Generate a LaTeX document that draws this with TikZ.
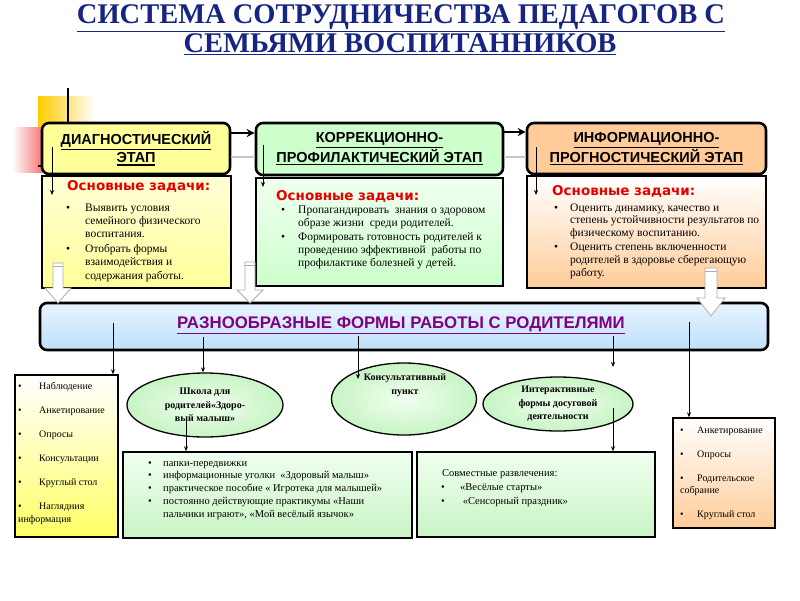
\documentclass[tikz,border=0pt]{standalone}
\usepackage{fontspec}
\setmainfont{Liberation Serif}
\newfontfamily\hsans{Liberation Sans}
\newfontfamily\blk{DejaVu Sans}
\usetikzlibrary{arrows.meta,shapes.geometric}
\definecolor{titleblue}{RGB}{22,36,130}
\definecolor{hyellow}{RGB}{255,255,153}
\definecolor{hgreen}{RGB}{204,255,204}
\definecolor{horange}{RGB}{255,204,153}
\definecolor{barblue}{RGB}{190,224,250}
\definecolor{barlight}{RGB}{232,244,255}
\definecolor{purp}{RGB}{128,0,128}
\definecolor{taskred}{RGB}{230,0,0}
\definecolor{palegreen}{RGB}{200,244,196}
\definecolor{lightgreen}{RGB}{240,255,240}
\definecolor{paleyellow}{RGB}{255,255,215}
\definecolor{listyellow}{RGB}{255,255,100}
\definecolor{decoyellow}{RGB}{255,204,0}
\definecolor{decored}{RGB}{240,40,40}
\newcommand\myul[2][1.3pt]{\vtop{\hbox{#2}\kern1.5pt\hrule height #1}}
\newcommand\fsz[2]{\fontsize{#1}{#2}\selectfont}
\begin{document}
\begin{tikzpicture}[x=1pt,y=-1pt,
  stagebox/.style={draw=black, line width=2.6pt, rounded corners=7pt, inner sep=0pt, align=center, font=\hsans\bfseries\fsz{14.5}{18}},
  taskbox/.style={draw=black, line width=1.6pt, inner sep=0pt},
  listbox/.style={draw=black, line width=1.4pt, inner sep=0pt},
  formell/.style={ellipse, draw=black, line width=1.3pt, inner sep=0pt, inner color=lightgreen, outer color=palegreen},
  conn/.style={line width=0.8pt, -{Stealth[length=5pt,width=4pt]}},
  hollow/.style={draw=gray!65, fill=white, line width=0.8pt},
  txt/.style={inner sep=0pt, anchor=base west},
  head/.style={inner sep=0pt, anchor=base west, text=taskred, font=\blk\bfseries\fsz{13.5}{15}},
]
\useasboundingbox (0,0) rectangle (800,600);
\fill[white] (0,0) rectangle (800,600);

% title
\node[anchor=base, inner sep=0pt, text=titleblue, font=\bfseries\fsz{28.5}{31}] (title1) at (401,23) {\myul[1.7pt]{СИСТЕМА СОТРУДНИЧЕСТВА ПЕДАГОГОВ С}};
\node[anchor=base, inner sep=0pt, text=titleblue, font=\bfseries\fsz{28.5}{31}] (title2) at (400,52) {\myul[1.7pt]{СЕМЬЯМИ ВОСПИТАННИКОВ}};

% decoration
\shade[left color=decoyellow, right color=white] (38,96) rectangle (95,145);
\shade[left color=white, right color=decored] (12,127) rectangle (60,172);
\draw[line width=1.2pt] (68,88) -- (68,123);
\draw[line width=1.2pt] (38,166) -- (44,166);

% task boxes
\node[taskbox, top color=paleyellow, bottom color=hyellow, minimum width=189, minimum height=112] (t1) at (136.5,232) {};
\node[taskbox, top color=lightgreen, bottom color=hgreen, minimum width=247, minimum height=108] (t2) at (379.5,232) {};
\node[taskbox, top color=white, bottom color=horange, minimum width=239, minimum height=112] (t3) at (646.5,232) {};

% stage boxes
\node[stagebox, fill=hyellow, minimum width=188, minimum height=51] (s1) at (136,148.5) {\myul{ДИАГНОСТИЧЕСКИЙ}\\\myul{ЭТАП}};
\node[stagebox, fill=hgreen, minimum width=247, minimum height=52] (s2) at (379.5,149) {\myul{КОРРЕКЦИОННО-}\\\myul{ПРОФИЛАКТИЧЕСКИЙ ЭТАП}};
\node[stagebox, fill=horange, minimum width=239, minimum height=51] (s3) at (646.5,148.5) {\myul{ИНФОРМАЦИОННО-}\\\myul{ПРОГНОСТИЧЕСКИЙ ЭТАП}};

% connectors between stages
\draw[gray!45, line width=1.5pt] (s1.east |- 0,157) -- (s2.west |- 0,157);
\draw[gray!45, line width=1.5pt] (s2.east |- 0,157) -- (s3.west |- 0,157);
\draw[line width=1.8pt, -{Stealth[length=8pt,width=8pt]}] (s1.east |- 0,133) -- (s2.west |- 0,133);
\draw[line width=1.8pt, -{Stealth[length=8pt,width=8pt]}] (s2.east |- 0,132) -- (s3.west |- 0,132);

% thin arrows inside stage boxes
\coordinate (a1s) at (52,147); \coordinate (a1e) at (52,195);
\coordinate (a2s) at (263,145); \coordinate (a2e) at (263,187);
\coordinate (a3s) at (536,147); \coordinate (a3e) at (536,195);
\draw[conn] (a1s) -- (a1e);
\draw[conn] (a2s) -- (a2e);
\draw[conn] (a3s) -- (a3e);

% task texts
\node[head] (t1h) at (67,190) {Основные задачи:};
\node[txt] (t1l) at (66,211) {\fsz{11.5}{13.3}\begin{tabular}[t]{@{}p{19pt}@{}l@{}}
\textbullet & Выявить условия\\
 & семейного физического\\
 & воспитания.\\[1.7pt]
\textbullet & Отобрать формы\\
 & взаимодействия и\\
 & содержания работы.
\end{tabular}};

\node[head] (t2h) at (276,200) {Основные задачи:};
\node[txt] (t2l) at (281,213) {\fsz{11.5}{13.2}\begin{tabular}[t]{@{}p{17pt}@{}l@{}}
\textbullet & Пропагандировать\ \ знания о здоровом\\
 & образе жизни\ \ среди родителей.\\[1pt]
\textbullet & Формировать готовность родителей к\\
 & проведению эффективной\ \ работы по\\
 & профилактике болезней у детей.
\end{tabular}};

\node[head] (t3h) at (552,195) {Основные задачи:};
\node[txt] (t3l) at (554,211) {\fsz{11.5}{12.8}\begin{tabular}[t]{@{}p{16pt}@{}l@{}}
\textbullet & Оценить динамику, качество и\\
 & степень устойчивности результатов по\\
 & физическому воспитанию.\\[1.2pt]
\textbullet & Оценить степень включенности\\
 & родителей в здоровье сберегающую\\
 & работу.
\end{tabular}};

% bar
\node[stagebox, top color=barlight, bottom color=barblue, minimum width=728, minimum height=47] (bar) at (404,326.5) {};
\node[anchor=base, inner sep=0pt, text=purp, font=\hsans\bfseries\fsz{16.8}{18}] (bart) at (401,328) {\myul[1.2pt]{РАЗНООБРАЗНЫЕ ФОРМЫ РАБОТЫ С РОДИТЕЛЯМИ}};

% hollow arrows
\draw[hollow] (53,263) -- (63,263) -- (63,288) -- (71,288) -- (58,303) -- (45,288) -- (53,288) -- cycle;
\draw[gray!65, line width=0.8pt] (53,266.5) -- (63,266.5);
\draw[hollow] (245,262) -- (255,262) -- (255,290) -- (263,290) -- (250,303) -- (237,290) -- (245,290) -- cycle;
\draw[gray!65, line width=0.8pt] (245,265.5) -- (255,265.5);
\draw[hollow] (705,268) -- (717,268) -- (717,298) -- (725,298) -- (711,316) -- (697,298) -- (705,298) -- cycle;
\draw[gray!65, line width=0.8pt] (705,271.5) -- (717,271.5);

% bottom boxes
\node[listbox, top color=white, bottom color=listyellow, minimum width=103, minimum height=162] (lst1) at (66.5,456) {};
\node[listbox, top color=lightgreen, bottom color=palegreen, minimum width=289, minimum height=86] (box2) at (267.5,495) {};
\node[listbox, top color=lightgreen, bottom color=palegreen, minimum width=238, minimum height=85] (box3) at (536,494.5) {};
\node[listbox, top color=white, bottom color=horange, minimum width=102, minimum height=110] (lst2) at (724,473) {};

% ellipses
\node[formell, minimum width=156, minimum height=64, align=center, font=\bfseries\fsz{10}{13.5}] (e1) at (205,405) {Школа для\\ родителей«Здоро-\\ вый малыш»};
\node[formell, minimum width=145, minimum height=72] (e2) at (404,399) {};
\node[anchor=base, inner sep=0pt, align=center, font=\bfseries\fsz{10}{13.5}] (e2t) at (405,394) {Консультативный\\ пункт};
\node[formell, minimum width=150, minimum height=54, align=center, font=\bfseries\fsz{10}{13.5}] (e3) at (558,404) {Интерактивные\\ формы досуговой\\ деятельности};

% connectors from bar
\coordinate (b1) at (113,323);
\coordinate (b2) at (203,337);
\coordinate (b3) at (358,336); \coordinate (b3e) at (358,379);
\coordinate (b4) at (613,336); \coordinate (b4e) at (613,367);
\coordinate (b5) at (689,322);
\draw[conn] (b1) -- (b1 |- lst1.north);
\draw[conn] (b2) -- (b2 |- e1.north);
\draw[conn] (b3) -- (b3e);
\draw[conn] (b4) -- (b4e);
\draw[conn] (b5) -- (b5 |- lst2.north);
\coordinate (c1) at (186,418);
\coordinate (c2) at (613,408);
\draw[conn] (c1) -- (c1 |- box2.north);
\draw[conn] (c2) -- (c2 |- box3.north);

% bottom texts
\node[txt] (l1) at (18,389) {\fsz{10}{13}\begin{tabular}[t]{@{}p{21pt}@{}l@{}}
\textbullet & Наблюдение\\[11pt]
\textbullet & Анкетирование\\[11pt]
\textbullet & Опросы\\[11pt]
\textbullet & Консультации\\[11pt]
\textbullet & Круглый стол\\[11pt]
\textbullet & Наглядния\\
\multicolumn{2}{@{}l@{}}{информация}
\end{tabular}};

\node[txt] (l2) at (148,466) {\fsz{10.5}{12.8}\begin{tabular}[t]{@{}p{15pt}@{}l@{}}
\textbullet & папки-передвижки\\
\textbullet & информационные уголки\ \ «Здоровый малыш»\\
\textbullet & практическое пособие « Игротека для малышей»\\
\textbullet & постоянно действующие практикумы «Наши\\
 & пальчики играют», «Мой весёлый язычок»
\end{tabular}};

\node[txt, font=\fsz{10.5}{14}] (l3a) at (442,476) {Совместные развлечения:};
\node[txt] (l3) at (441,490) {\fsz{10.5}{14}\begin{tabular}[t]{@{}p{19pt}@{}l@{}}
\textbullet & «Весёлые старты»\\
\textbullet & \ «Сенсорный праздник»
\end{tabular}};

\node[txt] (l4) at (680,433) {\fsz{10}{12}\begin{tabular}[t]{@{}p{17pt}@{}l@{}}
\textbullet & Анкетирование\\[12pt]
\textbullet & Опросы\\[12pt]
\textbullet & Родительское\\
\multicolumn{2}{@{}l@{}}{собрание}\\[12pt]
\textbullet & Круглый стол
\end{tabular}};
\end{tikzpicture}
\end{document}
